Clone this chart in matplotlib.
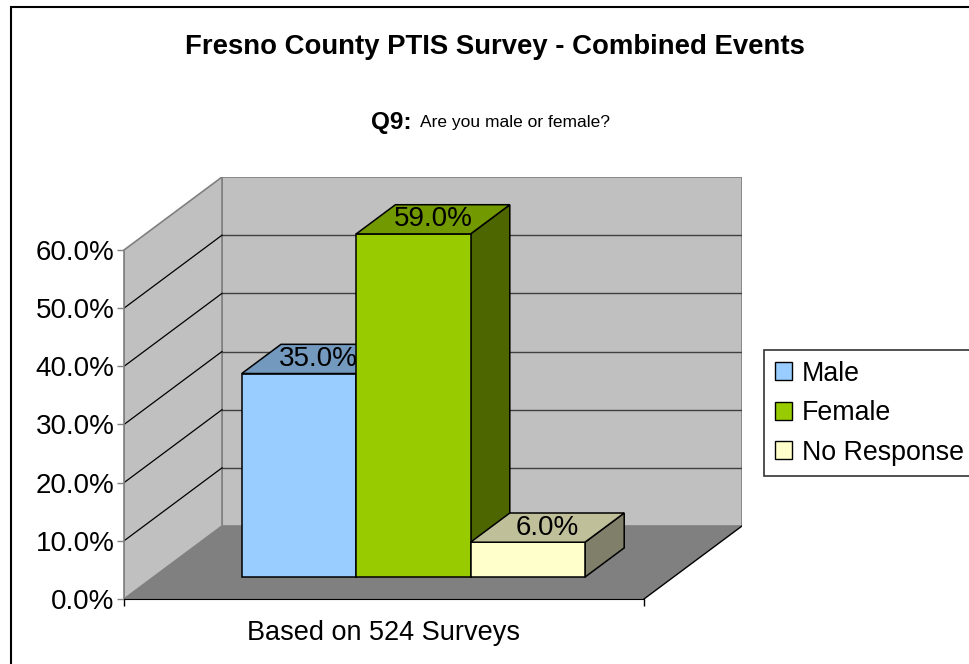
import matplotlib
matplotlib.use('Agg')
import numpy as np
from matplotlib import pyplot as plt
from matplotlib.patches import Polygon, Rectangle, Patch

plt.rcParams['font.family'] = ['Liberation Sans', 'DejaVu Sans']

# data
categories = ['Male', 'Female', 'No Response']
values = [35.0, 59.0, 6.0]
group_label = 'Based on 524 Surveys'
y_ticks = [0, 10, 20, 30, 40, 50, 60]

front_cols = ['#99CCFF', '#99CC00', '#FFFFCC']
top_cols = ['#7399BF', '#739900', '#BFBF99']
side_cols = ['#5C7A99', '#4D6600', '#80806A']

# oblique depth offset (x in category units, y in percent)
DX = 0.1885
DY = 12.55
ymax = 60.0
f0, f1 = 0.3, 0.7      # bar depth range
bw = 0.22              # bar width


def proj(x, d, v):
    return (x + d * DX, v + d * DY)


fig = plt.figure(figsize=(9.69, 6.64), dpi=100)
W, H = 969.0, 664.0
ax = fig.add_axes([124 / W, (H - 599) / H, 618 / W, (599 - 177) / H])
ax.set_xlim(0, 1 + DX)
ax.set_ylim(0, ymax + DY)
ax.patch.set_visible(False)

# walls and floor
back = Polygon([proj(0, 1, 0), proj(1, 1, 0), proj(1, 1, ymax), proj(0, 1, ymax)],
               closed=True, fc='#C0C0C0', ec='#808080', lw=1.2, zorder=1)
side = Polygon([proj(0, 0, 0), proj(0, 1, 0), proj(0, 1, ymax), proj(0, 0, ymax)],
               closed=True, fc='#C0C0C0', ec='#808080', lw=1.2, zorder=1)
floor = Polygon([proj(0, 0, 0), proj(1, 0, 0), proj(1, 1, 0), proj(0, 1, 0)],
                closed=True, fc='#808080', ec='none', zorder=1)
for p in (back, side, floor):
    ax.add_patch(p)
ax.plot(*zip(proj(1, 0, 0), proj(1, 1, 0)), color='black', lw=1, zorder=2)

for v in y_ticks[1:-1]:
    ax.plot(*zip(proj(0, 1, v), proj(1, 1, v)), color='#404040', lw=1, zorder=2)
    ax.plot(*zip(proj(0, 0, v), proj(0, 1, v)), color='black', lw=0.9, zorder=2)

# bars
x0 = 0.5 - bw * len(values) / 2
for i, v in enumerate(values):
    xl = x0 + i * bw
    xr = xl + bw
    front = [proj(xl, f0, 0), proj(xr, f0, 0), proj(xr, f0, v), proj(xl, f0, v)]
    top = [proj(xl, f0, v), proj(xr, f0, v), proj(xr, f1, v), proj(xl, f1, v)]
    rside = [proj(xr, f0, 0), proj(xr, f1, 0), proj(xr, f1, v), proj(xr, f0, v)]
    z = 3 + i
    ax.add_patch(Polygon(rside, closed=True, fc=side_cols[i], ec='black', lw=1.1, zorder=z))
    ax.add_patch(Polygon(front, closed=True, fc=front_cols[i], ec='black', lw=1.1, zorder=z))
    ax.add_patch(Polygon(top, closed=True, fc=top_cols[i], ec='black', lw=1.1, zorder=z))
    lx, ly = proj((xl + xr) / 2, (f0 + f1) / 2, v)
    ax.text(lx, ly, '%.1f%%' % v, ha='center', va='center', fontsize=20,
            color='black', zorder=10)

# axes
for s in ('top', 'right'):
    ax.spines[s].set_visible(False)
ax.spines['left'].set_bounds(0, ymax)
ax.spines['left'].set_color('#808080')
ax.spines['left'].set_linewidth(1.2)
ax.spines['left'].set_zorder(2.5)
ax.spines['bottom'].set_bounds(0, 1)
ax.spines['bottom'].set_color('black')
ax.spines['bottom'].set_zorder(2.5)
ax.set_yticks(y_ticks)
ax.set_yticklabels(['%.1f%%' % t for t in y_ticks])
ax.tick_params(axis='y', direction='out', length=5, width=1, color='#808080',
               labelsize=20, pad=2)
ax.set_xticks([0.5])
ax.set_xticklabels([group_label])
ax.set_xticks([0, 1], minor=True)
ax.tick_params(axis='x', which='major', length=0, labelsize=19.5, pad=15)
ax.tick_params(axis='x', which='minor', length=5, width=1, color='black')

# titles
fig.text(495 / W, 1 - 47 / H, 'Fresno County PTIS Survey - Combined Events',
         ha='center', va='center', fontsize=19.8, fontweight='bold')
fig.text(412 / W, 1 - 122 / H, 'Q9:', ha='right', va='center', fontsize=17.5,
         fontweight='bold')
fig.text(420 / W, 1 - 122 / H, 'Are you male or female?', ha='left', va='center',
         fontsize=12.5)

# legend
handles = [Patch(fc=c, ec='black', lw=1) for c in front_cols]
leg = fig.legend(handles, categories, loc='upper left',
                 bbox_to_anchor=(764 / W, 1 - 350 / H), fontsize=19.3,
                 frameon=True, fancybox=False, shadow=False,
                 handlelength=0.65, handleheight=0.65, handletextpad=0.35,
                 labelspacing=0.5, borderpad=0.4, borderaxespad=0)
leg.get_frame().set_edgecolor('black')
leg.get_frame().set_linewidth(1.2)

# outer border
fig.patches.append(Rectangle((11 / W, 0 - 0.1), 1.2, 1 - 7 / H + 0.1,
                             transform=fig.transFigure, fill=False,
                             ec='black', lw=1.5))

fig.savefig('out.png', dpi=100)
